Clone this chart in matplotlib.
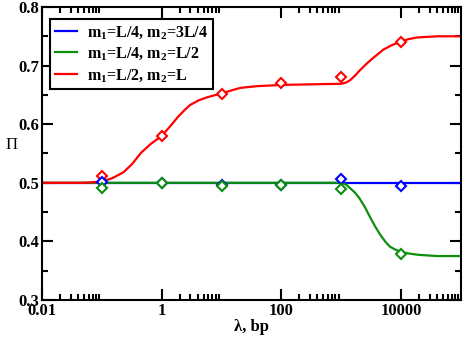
import matplotlib
matplotlib.use('Agg')
import matplotlib.pyplot as plt
from matplotlib.ticker import FixedLocator, NullFormatter

plt.rcParams['font.family'] = ['Liberation Serif', 'DejaVu Serif']
plt.rcParams['mathtext.fontset'] = 'custom'
plt.rcParams['mathtext.rm'] = 'Liberation Serif:bold'
plt.rcParams['mathtext.it'] = 'Liberation Serif:bold'
plt.rcParams['mathtext.bf'] = 'Liberation Serif:bold'

# simulation points (lambda, Pi)
lam_pts = [0.1, 1, 10, 100, 1000, 10000]
blue_pts = [0.502, 0.500, 0.497, 0.497, 0.506, 0.495]
green_pts = [0.491, 0.500, 0.495, 0.496, 0.489, 0.378]
red_pts = [0.512, 0.580, 0.651, 0.670, 0.681, 0.741]

# theory curves
blue_x = [0.01, 100000]
blue_y = [0.5, 0.5]
green_x = [0.01, 1000, 1200, 1400, 1700, 2000, 2500, 3000, 3700, 4500, 5500, 6500, 8000,
           10000, 14000, 20000, 40000, 100000]
green_y = [0.5, 0.5, 0.497, 0.491, 0.483, 0.474, 0.458, 0.442, 0.425, 0.411, 0.399, 0.391,
           0.386, 0.382, 0.379, 0.377, 0.375, 0.375]
red_x = [0.01, 0.05, 0.1, 0.15, 0.23, 0.32, 0.45, 0.65, 1, 1.4, 1.85, 2.4, 3.0, 4.2, 5.8,
         8, 10.4, 15, 20.7, 40, 100, 300, 1000, 1200, 1400, 1700, 2000, 2700, 3500, 5000,
         7000, 9600, 13000, 18500, 40000, 100000]
red_y = [0.5, 0.5, 0.502, 0.508, 0.518, 0.532, 0.551, 0.566, 0.580, 0.597, 0.612, 0.624,
         0.633, 0.641, 0.646, 0.650, 0.653, 0.658, 0.662, 0.665, 0.667, 0.668, 0.669, 0.671,
         0.675, 0.683, 0.691, 0.704, 0.714, 0.727, 0.735, 0.740, 0.745, 0.748, 0.750, 0.750]

labels = ['m$_1$=L/4, m$_2$=3L/4', 'm$_1$=L/4, m$_2$=L/2', 'm$_1$=L/2, m$_2$=L']
blue_c = '#0000ff'
green_c = '#0c8f0c'
red_c = '#ff0000'

fig = plt.figure(figsize=(4.63, 3.41), dpi=100)
ax = fig.add_axes([42 / 463, 1 - 300 / 341, 419 / 463, 293 / 341])

ax.plot(blue_x, blue_y, color=blue_c, lw=1.6, label=labels[0])
ax.plot(green_x, green_y, color=green_c, lw=1.6, label=labels[1])
ax.plot(red_x, red_y, color=red_c, lw=1.6, label=labels[2])

mk = dict(linestyle='none', marker='D', markersize=5.5, markerfacecolor='white',
          markeredgewidth=1.5)
ax.plot(lam_pts, red_pts, markeredgecolor=red_c, **mk)
ax.plot(lam_pts, blue_pts, markeredgecolor=blue_c, **mk)
ax.plot(lam_pts, green_pts, markeredgecolor=green_c, **mk)

ax.set_xscale('log')
ax.set_xlim(0.01, 100000)
ax.set_ylim(0.3, 0.8)

ax.xaxis.set_major_locator(FixedLocator([0.01, 1, 100, 10000]))
ax.set_xticklabels(['0.01', '1', '100', '10000'])
minor = [m * 10.0 ** e for e in (-2, 0, 2, 4) for m in range(2, 10)]
ax.xaxis.set_minor_locator(FixedLocator(minor))
ax.xaxis.set_minor_formatter(NullFormatter())
ax.set_yticks([0.3, 0.4, 0.5, 0.6, 0.7, 0.8])
ax.set_yticklabels(['0.3', '0.4', '0.5', '0.6', '0.7', '0.8'])
ax.set_yticks([0.35, 0.45, 0.55, 0.65, 0.75], minor=True)

ax.tick_params(which='both', direction='in', top=True, right=True, width=1.5,
               labelsize=12, pad=2)
ax.tick_params(which='major', length=8)
ax.tick_params(which='minor', length=4)
for lab in ax.get_xticklabels() + ax.get_yticklabels():
    lab.set_fontweight('bold')
for sp in ax.spines.values():
    sp.set_linewidth(1.5)

ax.set_xlabel('λ, bp', fontsize=12, fontweight='bold', labelpad=0)
ax.set_ylabel('Π', fontsize=12, rotation=0, va='center', ha='center')
ax.yaxis.set_label_coords(-30 / 419, (300 - 145) / 293)

leg = ax.legend(loc='upper left', bbox_to_anchor=(8 / 419, 1 - 12 / 293), borderaxespad=0,
                fancybox=False, framealpha=1, edgecolor='black', handlelength=1.4,
                prop={'family': 'Liberation Serif', 'weight': 'bold', 'size': 11.5},
                labelspacing=0.3, borderpad=0.3, handletextpad=0.6)
leg.get_frame().set_linewidth(1.5)

fig.savefig('out.png', dpi=100)
